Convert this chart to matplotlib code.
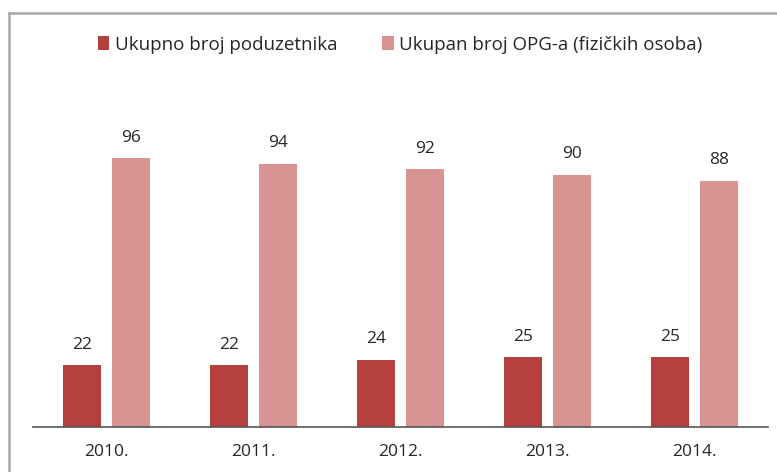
import numpy as np
import matplotlib.pyplot as plt
from matplotlib.lines import Line2D

# data
years = ["2010.", "2011.", "2012.", "2013.", "2014."]
poduzetnici = [22, 22, 24, 25, 25]
opg = [96, 94, 92, 90, 88]

dark = "#b5403f"
pink = "#d89492"
txt = "#262626"

plt.rcParams['font.family'] = ['Open Sans', 'DejaVu Sans']

fig = plt.figure(figsize=(7.77, 4.72), dpi=100)
ax = fig.add_axes([0.0425, 0.0953, 0.9455, 0.712])

x = np.arange(len(years))
w = 0.26
off = 0.167

b1 = ax.bar(x - off, poduzetnici, width=w, color=dark, label="Ukupno broj poduzetnika")
b2 = ax.bar(x + off, opg, width=w, color=pink, label="Ukupan broj OPG-a (fizičkih osoba)")

# value labels above bars
for bars, vals in [(b1, poduzetnici), (b2, opg)]:
    for b, v in zip(bars, vals):
        ax.annotate(str(v), (b.get_x() + b.get_width() / 2, b.get_height()),
                    xytext=(0, 9), textcoords="offset points",
                    ha="center", va="bottom", fontsize=12.5, color=txt)

ax.set_xlim(-0.5, len(years) - 0.5)
ax.set_ylim(0, 120)
ax.set_xticks(x)
ax.set_xticklabels(years, fontsize=12.5, color=txt)
ax.tick_params(axis="x", length=0, pad=12)
ax.set_yticks([])
for s in ["top", "right", "left"]:
    ax.spines[s].set_visible(False)
ax.spines["bottom"].set_color("#555555")
ax.spines["bottom"].set_linewidth(1.2)

fig.legend(loc="center", bbox_to_anchor=(0.515, 0.905), ncol=2, frameon=False,
           fontsize=13.5, handlelength=0.6, handleheight=0.8, handletextpad=0.3,
           columnspacing=2.4, labelcolor=txt)

# outer chart border (top and left visible)
fig.add_artist(Line2D([9 / 777, 1], [1 - 13 / 472, 1 - 13 / 472], color="#a8a8a8", lw=1.8))
fig.add_artist(Line2D([9 / 777, 9 / 777], [0, 1 - 13 / 472], color="#a8a8a8", lw=1.8))

plt.savefig("out.png", dpi=100)
